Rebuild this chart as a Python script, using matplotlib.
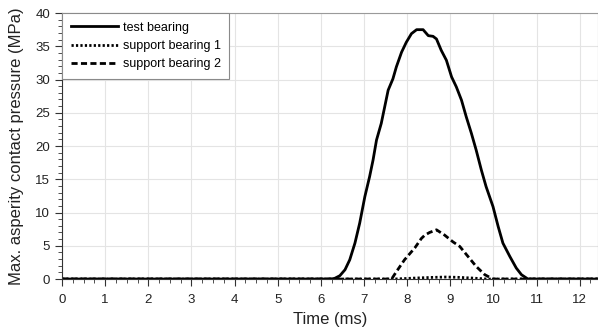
import matplotlib
matplotlib.use("Agg")
import matplotlib.pyplot as plt
from matplotlib.ticker import MultipleLocator

plt.rcParams['font.family'] = ['Liberation Sans', 'DejaVu Sans']

# Maximum asperity contact pressure (MPa) versus time (ms)
t_test = [0.0, 6.25, 6.32, 6.44, 6.56, 6.67, 6.79, 6.90, 7.02, 7.13, 7.21,
          7.29, 7.40, 7.48, 7.56, 7.67, 7.75, 7.87, 7.98, 8.10, 8.22, 8.37,
          8.49, 8.60, 8.68, 8.79, 8.91, 9.03, 9.14, 9.26, 9.37, 9.49, 9.60,
          9.72, 9.83, 9.99, 10.11, 10.22, 10.38, 10.53, 10.65, 10.80, 12.5]
p_test = [0.0, 0.0, 0.1, 0.5, 1.4, 2.9, 5.4, 8.4, 12.4, 15.4, 17.9,
          20.9, 23.4, 25.9, 28.4, 30.1, 31.9, 34.1, 35.6, 36.9, 37.5, 37.5,
          36.6, 36.5, 36.1, 34.4, 32.9, 30.4, 28.9, 26.9, 24.4, 21.9, 19.4,
          16.4, 13.9, 10.9, 7.9, 5.4, 3.4, 1.65, 0.65, 0.0, 0.0]

t_sup1 = [0.0, 7.7, 8.2, 8.6, 8.9, 9.2, 9.5, 9.85, 12.5]
p_sup1 = [0.0, 0.0, 0.15, 0.25, 0.3, 0.25, 0.15, 0.0, 0.0]

t_sup2 = [0.0, 7.64, 7.75, 7.94, 8.18, 8.33, 8.41, 8.52, 8.68, 8.87, 9.06,
          9.22, 9.41, 9.60, 9.80, 9.99, 12.5]
p_sup2 = [0.0, 0.0, 1.1, 2.9, 4.7, 6.1, 6.6, 7.0, 7.4, 6.6, 5.6,
          4.9, 3.4, 1.9, 0.65, 0.0, 0.0]

labels = ["test bearing", "support bearing 1", "support bearing 2"]

fig = plt.figure(figsize=(5.98, 3.31), dpi=100)
ax = fig.add_axes([0.1037, 0.157, 0.896, 0.8036])

ax.plot(t_test, p_test, color='black', lw=2.0, ls='-', label=labels[0])
ax.plot(t_sup1, p_sup1, color='black', lw=2.0, ls=(0, (0.8, 0.8)), label=labels[1])
ax.plot(t_sup2, p_sup2, color='black', lw=2.0, ls=(0, (2.2, 1.2)), label=labels[2])

ax.set_xlim(0, 12.42)
ax.set_ylim(0, 40)
ax.xaxis.set_major_locator(MultipleLocator(1))
ax.xaxis.set_minor_locator(MultipleLocator(0.25))
ax.yaxis.set_major_locator(MultipleLocator(5))
ax.yaxis.set_minor_locator(MultipleLocator(1))
ax.tick_params(axis='both', which='major', length=5, width=0.8, labelsize=9.5,
               colors='#333333', labelcolor='#222222')
ax.tick_params(axis='both', which='minor', length=3, width=0.6, colors='#333333')
ax.tick_params(axis='x', pad=6)

ax.grid(True, which='major', color='#e4e4e4', lw=0.8)
ax.set_axisbelow(True)

for side in ('top', 'right'):
    ax.spines[side].set_color('#9a9a9a')
    ax.spines[side].set_linewidth(0.8)
ax.spines['left'].set_color('#333333')
ax.spines['bottom'].set_color('#333333')

ax.set_xlabel("Time (ms)", fontsize=12, color='#222222')
ax.set_ylabel("Max. asperity contact pressure (MPa)", fontsize=12, color='#222222',
              labelpad=8)

leg = ax.legend(loc='upper left', fontsize=9, handlelength=3.75, handletextpad=0.4,
                borderaxespad=0.0, fancybox=False, framealpha=1,
                edgecolor='#8a8a8a', borderpad=0.7, labelspacing=0.5)
leg.get_frame().set_linewidth(0.8)

fig.savefig("out.png", dpi=100)
